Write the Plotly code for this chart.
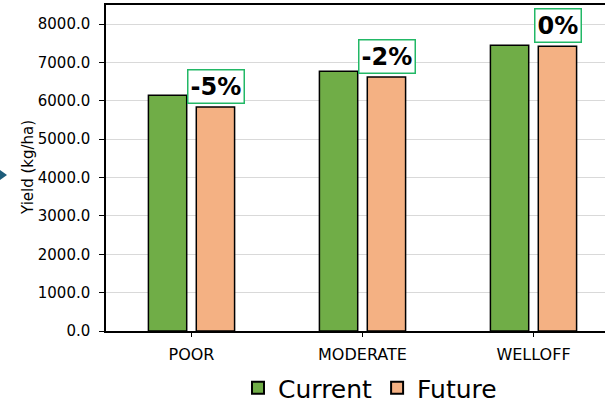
import plotly.graph_objects as go

# Yield by household wealth group, current vs future climate
groups = ["POOR", "MODERATE", "WELLOFF"]
current_yield = [6150, 6775, 7450]
future_yield = [5840, 6620, 7425]
y_ticks = [0, 1000, 2000, 3000, 4000, 5000, 6000, 7000, 8000]

GREEN = "#70ad47"
ORANGE = "#f4b183"
BOX_GREEN = "#22b866"
FONT = "DejaVu Sans"

W, H = 605, 403
ML, MT, MB, MR = 106, 5, 72, 0
plot_w = W - ML - MR
plot_h = H - MT - MB


def px_x(px):
    return (px - ML) / plot_w


def px_y(py):
    return (H - MB - py) / plot_h


fig = go.Figure()
fig.add_bar(name="Current", x=groups, y=current_yield, marker=dict(color=GREEN, line=dict(color="black", width=1.5)))
fig.add_bar(name="Future", x=groups, y=future_yield, marker=dict(color=ORANGE, line=dict(color="black", width=1.5)))

# percentage change labels above the future bars
for g, c, f in zip(groups, current_yield, future_yield):
    pct = round((f - c) / c * 100)
    fig.add_annotation(
        x=g, y=f, xref="x", yref="y", xshift=24, yshift=3,
        yanchor="bottom", showarrow=False,
        text=f"<b>{pct}%</b>", font=dict(family=FONT, size=24, color="black"),
        bgcolor="white", bordercolor=BOX_GREEN, borderwidth=1.5, borderpad=2,
    )

# axis title
fig.add_annotation(
    x=px_x(28), y=0.5, xref="paper", yref="paper", xanchor="center", yanchor="middle",
    showarrow=False, text="Yield (kg/ha)", textangle=-90,
    font=dict(family=FONT, size=15, color="black"),
)

# small pointer at the left edge
x0, x1 = px_x(0), px_x(7)
ya, yb, yc = px_y(170), px_y(175), px_y(180)
fig.add_shape(
    type="path", xref="paper", yref="paper",
    path=f"M {x0} {ya} L {x1} {yb} L {x0} {yc} Z",
    fillcolor="#1d5c7a", line=dict(width=0),
)

fig.update_layout(
    width=W, height=H,
    margin=dict(l=ML, r=MR, t=MT, b=MB, autoexpand=False),
    paper_bgcolor="white", plot_bgcolor="white",
    barmode="group", bargap=0.44, bargroupgap=0.2,
    font=dict(family=FONT, color="black"),
    legend=dict(
        orientation="h", x=px_x(370), xanchor="center", y=px_y(388), yanchor="middle",
        font=dict(family=FONT, size=25, color="black"), itemsizing="constant",
        tracegroupgap=0, itemwidth=30,
    ),
    xaxis=dict(
        range=[-0.5, -0.5 + plot_w / 171], showline=True, mirror=True,
        linecolor="black", linewidth=1.5, ticks="outside", ticklen=4,
        tickcolor="black", tickfont=dict(family=FONT, size=16, color="black"),
        showgrid=False, ticklabelstandoff=4,
    ),
    yaxis=dict(
        range=[0, 8500], tickvals=y_ticks, tickformat=".1f",
        showline=True, linecolor="black", linewidth=1.5,
        ticks="outside", ticklen=5, tickcolor="black",
        tickfont=dict(family=FONT, size=15, color="black"),
        showgrid=True, gridcolor="#d9d9d9", gridwidth=1, zeroline=False,
        ticklabelstandoff=6,
    ),
)

fig.write_html("out.html")
